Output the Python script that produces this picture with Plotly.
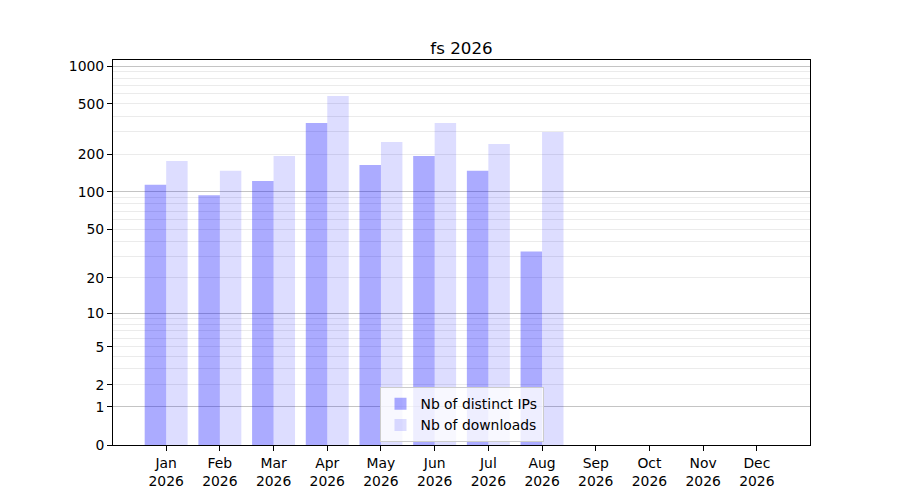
import plotly.graph_objects as go

months = ["Jan", "Feb", "Mar", "Apr", "May", "Jun",
          "Jul", "Aug", "Sep", "Oct", "Nov", "Dec"]
year = "2026"
distinct_ips = [114, 94, 122, 353, 164, 193, 147, 33, 0, 0, 0, 0]
downloads = [176, 147, 193, 579, 250, 353, 241, 300, 0, 0, 0, 0]

# y axis is log10(1 + n): labels are n, positions are 1 + n on a log axis
y_ticks = [0, 1, 2, 5, 10, 20, 50, 100, 200, 500, 1000]
major_grid = [1, 10, 100, 1000]
minor_grid = [2, 3, 4, 5, 6, 7, 8, 9,
              20, 30, 40, 50, 60, 70, 80, 90,
              200, 300, 400, 500, 600, 700, 800, 900]

labels = [f"{m}<br>{year}" for m in months]
font = dict(family="DejaVu Sans", size=13.9, color="black")

fig = go.Figure()
fig.add_trace(go.Bar(
    x=labels, y=distinct_ips, base=1,
    name="Nb of distinct IPs",
    marker=dict(color="rgba(0,0,255,0.33)", line=dict(width=0)),
))
fig.add_trace(go.Bar(
    x=labels, y=downloads, base=1,
    name="Nb of downloads",
    marker=dict(color="rgba(0,0,255,0.133)", line=dict(width=0)),
))

yrange = [0, 3.048]

# the page puts the figure 8px in from the top-left corner
fig.update_layout(
    width=900,
    height=500,
    margin=dict(l=105, r=98, t=52, b=63),
    paper_bgcolor="white",
    plot_bgcolor="white",
    font=font,
    barmode="group",
    bargap=0.2,
    bargroupgap=0,
    title=dict(
        text="fs 2026",
        x=0.5, xref="paper", xanchor="center",
        y=1, yref="paper", yanchor="bottom",
        pad=dict(b=6),
        font=dict(family="DejaVu Sans", size=16.7, color="black"),
    ),
    legend=dict(
        x=0.5, xanchor="center",
        y=0.007, yanchor="bottom",
        bgcolor="rgba(255,255,255,0.8)",
        bordercolor="#cccccc",
        borderwidth=1,
        font=font,
        tracegroupgap=0,
    ),
    xaxis=dict(
        type="category",
        range=[-0.99, 11.99],
        showline=True, mirror=True, linecolor="black", linewidth=1,
        ticks="outside", ticklen=5, tickcolor="black",
        showgrid=False,
        tickfont=font,
    ),
    yaxis=dict(
        type="log",
        range=yrange,
        tickmode="array",
        tickvals=[1 + t for t in y_ticks],
        ticktext=[str(t) for t in y_ticks],
        showline=True, mirror=True, linecolor="black", linewidth=1,
        ticks="outside", ticklen=5, tickcolor="black",
        showgrid=False,
        zeroline=False,
        tickfont=font,
        minor=dict(
            tickmode="array",
            tickvals=[1 + t for t in minor_grid],
            showgrid=True,
            gridcolor="#ebebeb",
            gridwidth=1,
            ticks="",
        ),
    ),
    yaxis2=dict(
        type="log",
        range=yrange,
        overlaying="y",
        tickmode="array",
        tickvals=[1 + t for t in major_grid],
        showticklabels=False,
        ticks="",
        showgrid=True,
        gridcolor="#c4c4c4",
        gridwidth=1,
        zeroline=False,
    ),
)

# invisible trace to activate the major grid axis
fig.add_trace(go.Scatter(
    x=labels, y=[1 + t for t in downloads], yaxis="y2",
    mode="markers", marker=dict(opacity=0), showlegend=False,
    hoverinfo="skip",
))

fig.write_html("out.html")
